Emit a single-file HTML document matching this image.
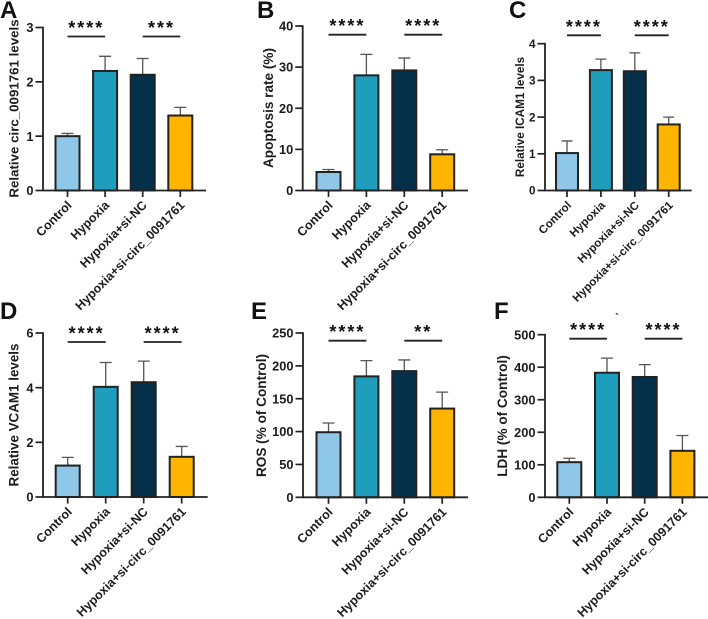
<!DOCTYPE html>
<html><head><meta charset="utf-8"><title>Bar chart panels</title>
<style>
html,body{margin:0;padding:0;background:#fff}
svg{display:block;font-family:"Liberation Sans",Arial,sans-serif;fill:#1c1c1c;filter:blur(0.3px)}
</style></head>
<body>
<svg id="fig" width="708" height="619" viewBox="0 0 708 619" xmlns="http://www.w3.org/2000/svg"></svg>
<script>
const categories = ['Control','Hypoxia','Hypoxia+si-NC','Hypoxia+si-circ_0091761'];
const barColors = ['#8FC7E8','#1F9DBD','#04304A','#FFB400'];

const aMeans = [1.0, 2.2, 2.13, 1.38];
const aUpper = [1.05, 2.47, 2.43, 1.53];
const aTicks = [0, 1, 2, 3];
const aStars = ['****', '***'];

const bMeans = [4.5, 28, 29.2, 8.8];
const bUpper = [5.1, 33.1, 32.2, 9.9];
const bTicks = [0, 10, 20, 30, 40];
const bStars = ['****', '****'];

const cMeans = [1.02, 3.28, 3.25, 1.8];
const cUpper = [1.35, 3.58, 3.75, 2.0];
const cTicks = [0, 1, 2, 3, 4];
const cStars = ['****', '****'];

const dMeans = [1.15, 4.03, 4.2, 1.47];
const dUpper = [1.45, 4.92, 4.97, 1.85];
const dTicks = [0, 2, 4, 6];
const dStars = ['****', '****'];

const eMeans = [99, 184, 192, 135];
const eUpper = [113, 208, 209, 160];
const eTicks = [0, 50, 100, 150, 200, 250];
const eStars = ['****', '**'];

const fMeans = [108, 383, 370, 143];
const fUpper = [120, 428, 408, 190];
const fTicks = [0, 100, 200, 300, 400, 500];
const fStars = ['****', '****'];

const panels = [
 {id:'a',letter:'A',lx:0,ly:18,title:'Relative circ_0091761 levels',tx:18.5,ty:108.5,ts:13.3,axX:43,y0:190.5,yTop:27.5,xEnd:206,first:67.5,step:37.6,bw:24,sigY:36.5,fs:12.8,cfs:12.5,means:aMeans,upper:aUpper,ticks:aTicks,stars:aStars},
 {id:'b',letter:'B',lx:257,ly:18,title:'Apoptosis rate (%)',tx:273,ty:108,ts:13.6,axX:302.7,y0:190.5,yTop:26,xEnd:468,first:328.5,step:37.9,bw:24,sigY:34.7,fs:12.8,cfs:12.5,means:bMeans,upper:bUpper,ticks:bTicks,stars:bStars},
 {id:'c',letter:'C',lx:509,ly:18,title:'Relative ICAM1 levels',tx:524,ty:117,ts:11.7,axX:545,y0:190.5,yTop:43.7,xEnd:691.7,first:567,step:33.9,bw:22,sigY:35.3,fs:11.7,cfs:11.5,means:cMeans,upper:cUpper,ticks:cTicks,stars:cStars},
 {id:'d',letter:'D',lx:0,ly:319,title:'Relative VCAM1 levels',tx:18.5,ty:415,ts:13.4,axX:43,y0:497,yTop:333,xEnd:207.7,first:67.7,step:38,bw:24,sigY:342,fs:12.8,cfs:12.5,means:dMeans,upper:dUpper,ticks:dTicks,stars:dStars},
 {id:'e',letter:'E',lx:251,ly:319,title:'ROS (% of Control)',tx:266,ty:415.5,ts:13.6,axX:303,y0:497.3,yTop:333,xEnd:468,first:328.5,step:37.9,bw:24,sigY:340.7,fs:12.8,cfs:12.5,means:eMeans,upper:eUpper,ticks:eTicks,stars:eStars},
 {id:'f',letter:'F',lx:494,ly:319,title:'LDH (% of Control)',tx:507,ty:416,ts:13.6,axX:545,y0:497.3,yTop:334.7,xEnd:708,first:569.3,step:37.7,bw:24,sigY:338.7,fs:12.8,cfs:12.5,means:fMeans,upper:fUpper,ticks:fTicks,stars:fStars}
];

const NS = 'http://www.w3.org/2000/svg';
const svg = document.getElementById('fig');

function make(parent, tag, attrs, text) {
  const el = document.createElementNS(NS, tag);
  for (const k in attrs) el.setAttribute(k, attrs[k]);
  if (text !== undefined) el.textContent = text;
  parent.appendChild(el);
  return el;
}

function drawPanel(p) {
  const yMax = p.ticks[p.ticks.length - 1];
  const yScale = v => p.y0 - (v / yMax) * (p.y0 - p.yTop);
  const xScale = i => p.first + i * p.step;

  const g = make(svg, 'g', {});
  
  

  const letter = make(g, 'text', {x:p.lx, y:p.ly, 'font-size':24, 'font-weight':'bold', fill:'#111'}, p.letter);
  
  

  const title = make(g, 'text', {transform:`translate(${p.tx},${p.ty}) rotate(-90)`, 'text-anchor':'middle', 'font-size':p.ts, 'font-weight':'bold'}, p.title);
  
  

  p.means.forEach((m, i) => {
    const cx = xScale(i);
    const err = make(g, 'path', {d:`M${cx} ${yScale(m)}V${yScale(p.upper[i])}M${cx - p.bw * 0.25} ${yScale(p.upper[i])}H${cx + p.bw * 0.25}`, stroke:'#555', 'stroke-width':1.3, fill:'none'});
    
    

    const bar = make(g, 'rect', {x:cx - p.bw / 2, y:yScale(m), width:p.bw, height:p.y0 - yScale(m), fill:barColors[i], stroke:'#222', 'stroke-width':2});
    
    

    const tick = make(g, 'line', {x1:cx, x2:cx, y1:p.y0, y2:p.y0 + 6.5, stroke:'#222', 'stroke-width':1.7});
    
    

    const lab = make(g, 'text', {transform:`translate(${cx + 5},${p.y0 + 15.5}) rotate(-45)`, 'text-anchor':'end', 'font-size':p.cfs, 'font-weight':'bold'}, categories[i]);
    
    
  });

  p.ticks.forEach(t => {
    const y = yScale(t);
    const tk = make(g, 'line', {x1:p.axX - 7.5, x2:p.axX, y1:y, y2:y, stroke:'#222', 'stroke-width':1.7});
    
    

    const tl = make(g, 'text', {x:p.axX - 9.5, y:y + p.fs * 0.36, 'text-anchor':'end', 'font-size':p.fs, 'font-weight':'bold'}, t);
    
    
  });

  const axis = make(g, 'path', {d:`M${p.axX} ${p.yTop - 0.8}V${p.y0}H${p.xEnd}`, stroke:'#222', 'stroke-width':1.8, fill:'none'});
  
  

  p.stars.forEach((s, k) => {
    const a = xScale(k * 2), b = xScale(k * 2 + 1);
    const line = make(g, 'line', {x1:a, x2:b, y1:p.sigY, y2:p.sigY, stroke:'#222', 'stroke-width':1.8});
    
    

    const st = make(g, 'text', {x:(a + b) / 2, y:p.sigY - 2.5, 'text-anchor':'middle', 'font-size':18, 'font-weight':'bold', 'letter-spacing':'2', fill:'#111'}, s);
    
    
  });
}

panels.forEach(drawPanel);

const speck = make(svg, 'text', {x:615, y:322, 'font-size':12, 'font-weight':'bold', fill:'#333'}, '`');


</script>
</body></html>
